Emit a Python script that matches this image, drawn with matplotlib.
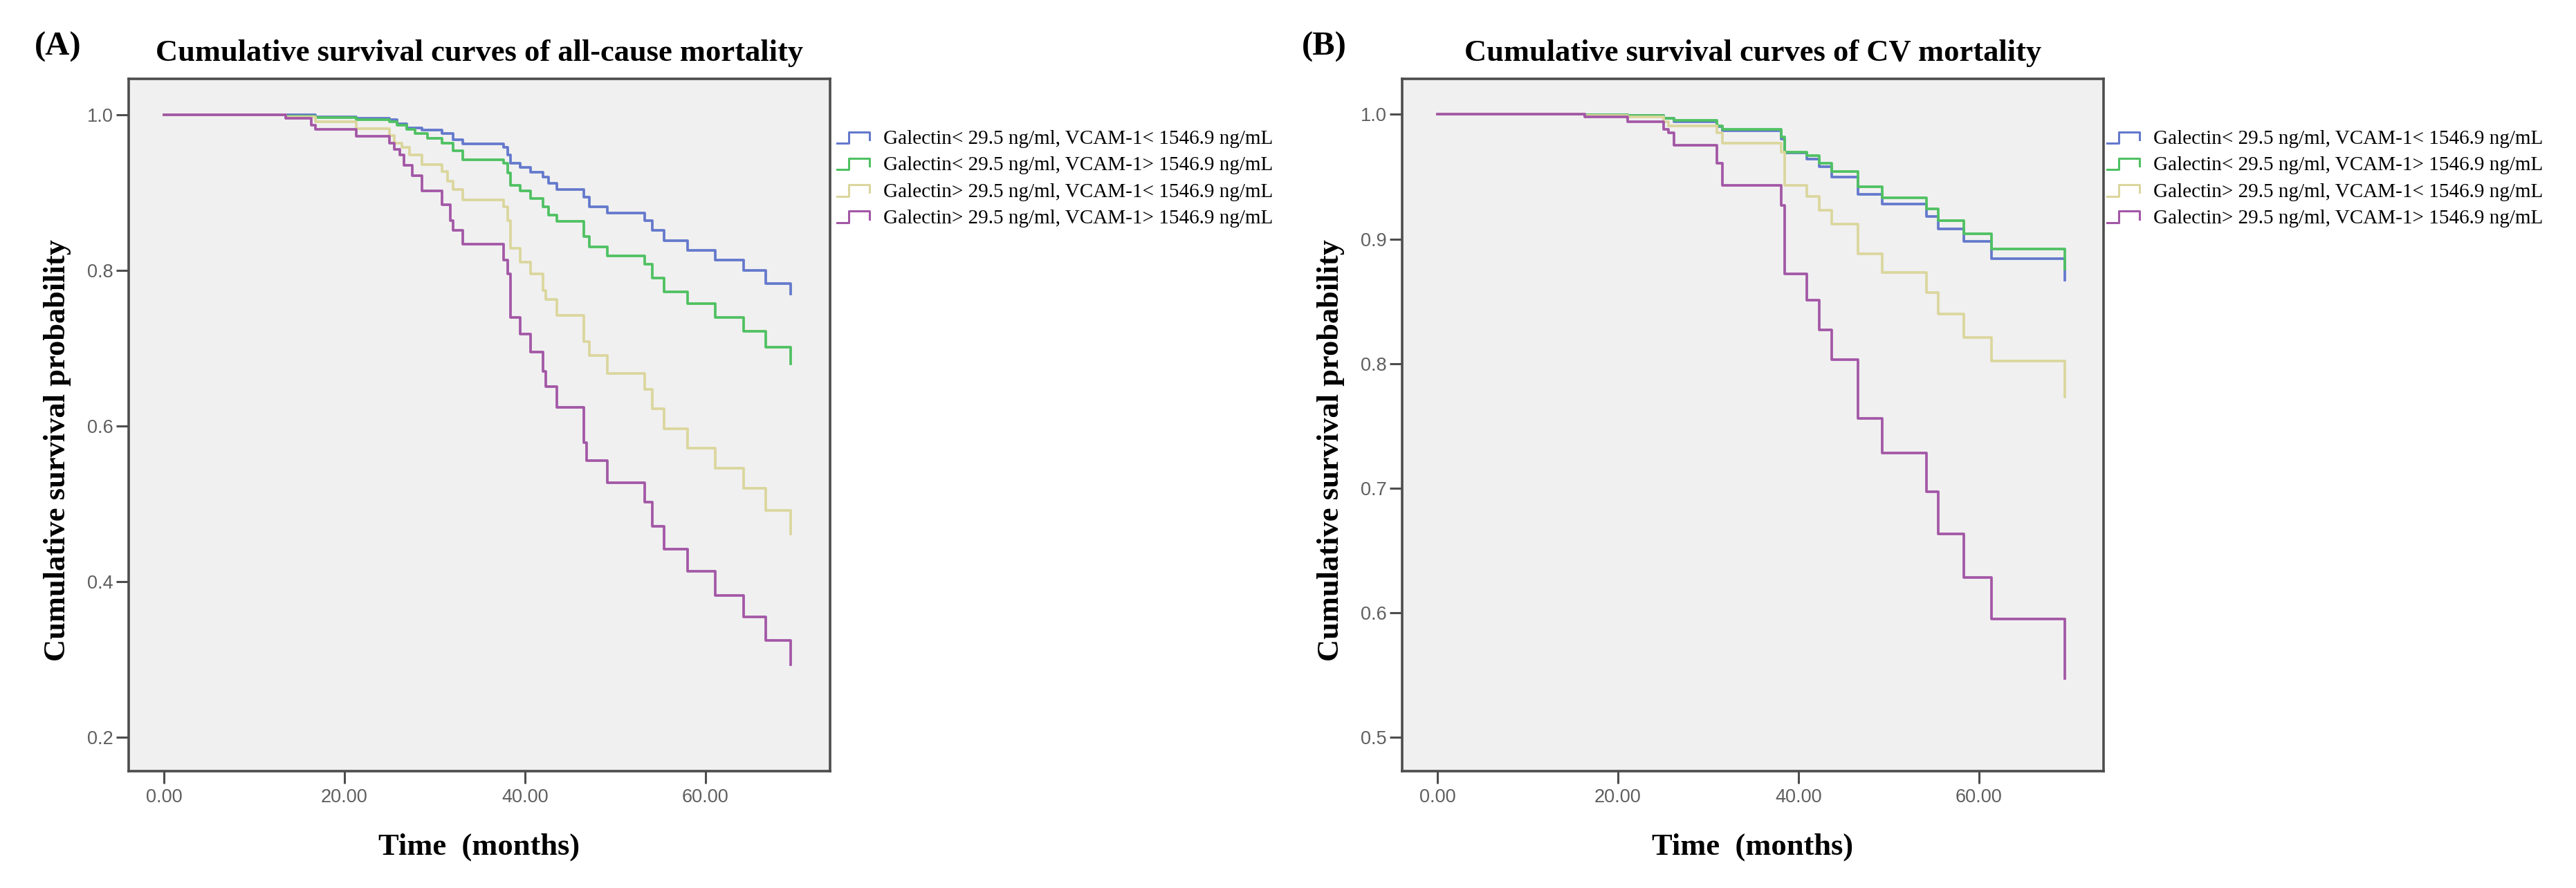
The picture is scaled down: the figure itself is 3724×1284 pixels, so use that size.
import numpy as np
import matplotlib
matplotlib.use("Agg")
import matplotlib.pyplot as plt
from matplotlib.lines import Line2D
from matplotlib.legend_handler import HandlerBase

# ---- data (months, cumulative survival) ----
labels = ["Galectin< 29.5 ng/ml, VCAM-1< 1546.9 ng/mL",
          "Galectin< 29.5 ng/ml, VCAM-1> 1546.9 ng/mL",
          "Galectin> 29.5 ng/ml, VCAM-1< 1546.9 ng/mL",
          "Galectin> 29.5 ng/ml, VCAM-1> 1546.9 ng/mL"]
colors = ["#6479cc", "#4fc162", "#dbd69d", "#a357a6"]

# panel A: all-cause mortality
a_time_1 = [0, 16.8, 21.3, 25.0, 25.8, 26.9, 28.6, 30.8, 32.0, 33.1, 37.6, 38.1, 38.4, 39.5, 40.6,
            42.0, 42.6, 43.5, 46.5, 47.1, 49.1, 53.3, 54.1, 55.4, 58.0, 61.1, 64.2, 66.7, 69.4]
a_surv_1 = [1.0, 0.997, 0.995, 0.993, 0.988, 0.983, 0.980, 0.976, 0.968, 0.962, 0.958, 0.948, 0.937,
            0.932, 0.926, 0.920, 0.912, 0.904, 0.894, 0.881, 0.873, 0.864, 0.851, 0.838, 0.825,
            0.813, 0.800, 0.783, 0.769]
a_time_2 = [0, 13.5, 16.8, 21.3, 25.0, 25.8, 26.9, 27.8, 29.2, 30.8, 32.0, 33.1, 37.6, 38.1, 38.4,
            39.5, 40.6, 42.0, 42.6, 43.5, 46.5, 47.1, 49.1, 53.3, 54.1, 55.4, 58.0, 61.1, 64.2,
            66.7, 69.4]
a_surv_2 = [1.0, 0.998, 0.996, 0.993, 0.991, 0.986, 0.981, 0.976, 0.969, 0.963, 0.953, 0.942,
            0.937, 0.925, 0.909, 0.902, 0.892, 0.881, 0.871, 0.863, 0.843, 0.830, 0.818, 0.808,
            0.790, 0.772, 0.757, 0.739, 0.721, 0.701, 0.680]
a_time_3 = [0, 13.5, 16.8, 21.3, 25.0, 25.5, 26.4, 27.2, 28.6, 30.8, 31.4, 32.0, 33.1, 37.6, 38.1,
            38.4, 39.5, 40.6, 42.0, 42.3, 43.5, 46.5, 47.1, 49.1, 53.3, 54.1, 55.4, 58.0, 61.1,
            64.2, 66.7, 69.4]
a_surv_3 = [1.0, 0.997, 0.991, 0.982, 0.973, 0.963, 0.958, 0.948, 0.936, 0.927, 0.914, 0.904,
            0.890, 0.881, 0.864, 0.828, 0.810, 0.795, 0.774, 0.762, 0.742, 0.708, 0.690, 0.667,
            0.647, 0.622, 0.596, 0.571, 0.545, 0.520, 0.491, 0.461]
a_time_4 = [0, 13.5, 16.3, 16.8, 21.3, 25.0, 25.5, 26.1, 26.6, 27.5, 28.6, 30.8, 31.7, 32.0, 33.1,
            37.6, 38.1, 38.4, 39.5, 40.6, 42.0, 42.3, 43.5, 46.5, 46.8, 49.1, 53.3, 54.1, 55.4,
            58.0, 61.1, 64.2, 66.7, 69.4]
a_surv_4 = [1.0, 0.995, 0.986, 0.981, 0.972, 0.963, 0.955, 0.948, 0.935, 0.921, 0.902, 0.884,
            0.864, 0.851, 0.833, 0.813, 0.795, 0.739, 0.718, 0.695, 0.670, 0.650, 0.624, 0.578,
            0.555, 0.527, 0.502, 0.471, 0.441, 0.413, 0.382, 0.354, 0.324, 0.293]

# panel B: CV mortality
b_time_1 = [0, 16.3, 21.1, 25.1, 26.2, 31.0, 31.6, 38.1, 38.5, 40.9, 42.3, 43.7, 46.6, 49.3, 54.2,
            55.5, 58.3, 61.4, 69.5]
b_surv_1 = [1.0, 0.9997, 0.999, 0.997, 0.994, 0.990, 0.987, 0.980, 0.969, 0.964, 0.958, 0.950,
            0.936, 0.928, 0.918, 0.908, 0.898, 0.884, 0.867]
b_time_2 = [0, 16.3, 21.1, 25.1, 26.2, 31.0, 31.6, 38.1, 38.5, 40.9, 42.3, 43.7, 46.6, 49.3, 54.2,
            55.5, 58.3, 61.4, 69.5]
b_surv_2 = [1.0, 0.9997, 0.999, 0.997, 0.995, 0.991, 0.988, 0.982, 0.970, 0.967, 0.961, 0.954,
            0.942, 0.933, 0.924, 0.915, 0.904, 0.892, 0.876]
b_time_3 = [0, 16.3, 21.1, 25.1, 25.6, 31.0, 31.6, 38.1, 38.5, 40.9, 42.3, 43.7, 46.6, 49.3, 54.2,
            55.5, 58.3, 61.4, 69.5]
b_surv_3 = [1.0, 0.999, 0.998, 0.994, 0.991, 0.985, 0.977, 0.970, 0.943, 0.934, 0.923, 0.912,
            0.888, 0.873, 0.857, 0.840, 0.821, 0.802, 0.773]
b_time_4 = [0, 16.3, 21.1, 25.1, 25.6, 26.2, 31.0, 31.6, 38.1, 38.5, 40.9, 42.3, 43.7, 46.6, 49.3,
            54.2, 55.5, 58.3, 61.4, 69.5]
b_surv_4 = [1.0, 0.998, 0.994, 0.988, 0.985, 0.975, 0.961, 0.943, 0.927, 0.872, 0.851, 0.827,
            0.803, 0.756, 0.728, 0.697, 0.663, 0.628, 0.595, 0.547]

x_ticks = [0, 20, 40, 60]
a_y_ticks = [0.2, 0.4, 0.6, 0.8, 1.0]
b_y_ticks = [0.5, 0.6, 0.7, 0.8, 0.9, 1.0]


class StepHandler(HandlerBase):
    # SPSS style little step glyph for the legend
    def create_artists(self, legend, orig_handle, xdescent, ydescent, width, height, fontsize, trans):
        xs = np.array([0.0, 0.35, 0.35, 0.95, 0.95]) * width - xdescent
        ys = np.array([0.05, 0.05, 0.85, 0.85, 0.3]) * height - ydescent
        ln = Line2D(xs, ys, color=orig_handle.get_color(), lw=2.2, transform=trans)
        return [ln]


W, H = 3724, 1284
fig = plt.figure(figsize=(W / 100, H / 100), dpi=100)
serif = "Liberation Serif"
sans = "Liberation Sans"
spine_c = "#4d4d4d"
tick_c = "#5e5e5e"


def draw_panel(left, times, survs, yticks, ylim, letter, letter_x, title, legend_x):
    ax = fig.add_axes([left / W, 1 - 1115 / H, 1014 / W, (1115 - 114) / H])
    ax.set_facecolor("#f0f0f0")
    handles = []
    for t, s, c, lab in zip(times, survs, colors, labels):
        h, = ax.step(t, s, where="post", color=c, lw=2.7, label=lab)
        handles.append(h)
    ax.set_xlim(-3.9, 73.8)
    ax.set_ylim(*ylim)
    ax.set_xticks(x_ticks)
    ax.set_xticklabels(["%.2f" % v for v in x_ticks])
    ax.set_yticks(yticks)
    ax.set_yticklabels(["%.1f" % v for v in yticks])
    for sp in ax.spines.values():
        sp.set_color(spine_c)
        sp.set_linewidth(2.6)
    ax.tick_params(direction="out", length=13, width=2.2, color=spine_c,
                   labelcolor=tick_c, labelsize=19.5, pad=3)
    ax.tick_params(axis="x", pad=5)
    for lb in ax.get_xticklabels() + ax.get_yticklabels():
        lb.set_family(sans)
    cx = (left + 507) / W
    fig.text(cx, 1 - 88 / H, title, ha="center", va="baseline", family=serif,
             fontweight="bold", fontsize=32)
    fig.text(letter_x / W, 1 - 80 / H, letter, ha="left", va="baseline", family=serif,
             fontweight="bold", fontsize=35)
    fig.text(cx, 1 - 1236 / H, "Time  (months)", ha="center", va="baseline", family=serif,
             fontweight="bold", fontsize=32)
    fig.text((left - 103) / W, 1 - 651 / H, "Cumulative survival probability", rotation=90,
             ha="center", va="center", family=serif, fontweight="bold", fontsize=32)
    fig.legend(handles=handles, labels=labels, loc="upper left",
               bbox_to_anchor=(legend_x / W, 1 - 188 / H), frameon=False,
               prop={"family": serif, "size": 21}, handler_map={Line2D: StepHandler()},
               handlelength=1.7, handletextpad=0.6, labelspacing=0.4,
               borderpad=0, borderaxespad=0)
    return ax


draw_panel(186, [a_time_1, a_time_2, a_time_3, a_time_4],
           [a_surv_1, a_surv_2, a_surv_3, a_surv_4], a_y_ticks, (0.156, 1.0458),
           "(A)", 50, "Cumulative survival curves of all-cause mortality", 1210)
draw_panel(2027, [b_time_1, b_time_2, b_time_3, b_time_4],
           [b_surv_1, b_surv_2, b_surv_3, b_surv_4], b_y_ticks, (0.4726, 1.0286),
           "(B)", 1882, "Cumulative survival curves of CV mortality", 3046)

fig.savefig("out.png", dpi=100, facecolor="white")
